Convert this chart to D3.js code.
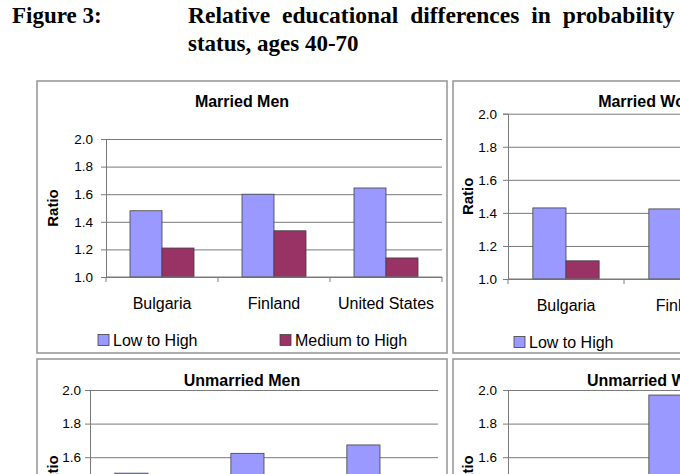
<!DOCTYPE html>
<html>
<head>
<meta charset="utf-8">
<script src="https://cdn.jsdelivr.net/npm/d3@7"></script>
<style>
  html, body { margin: 0; padding: 0; background: #fff; overflow: hidden; }
  svg { display: block; }
  text { font-family: "Liberation Sans", Arial, sans-serif; fill: #000; }
  .caption { font-family: "Liberation Serif", "Times New Roman", serif; font-weight: bold; font-size: 23px; }
</style>
</head>
<body>
<script>
var width = 680;
var height = 474;

// data
var countries = ['Bulgaria', 'Finland', 'United States'];
var seriesNames = ['Low to High', 'Medium to High'];
var yTicks = [1.0, 1.2, 1.4, 1.6, 1.8, 2.0];

var marriedMenLow = [1.48, 1.60, 1.645];
var marriedMenMed = [1.21, 1.335, 1.138];
var marriedWomenLow = [1.43, 1.424, 1.50];
var marriedWomenMed = [1.11, 1.25, 1.20];
var unmarriedMenLow = [1.505, 1.623, 1.673];
var unmarriedMenMed = [1.25, 1.30, 1.35];
var unmarriedWomenLow = [1.40, 1.97, 1.45];
var unmarriedWomenMed = [1.15, 1.40, 1.20];

var lowColor = '#9999ff';
var medColor = '#993366';
var gridColor = '#7a7a7a';

var svg = d3.select('body').append('svg')
    .attr('width', width)
    .attr('height', height);

// figure caption (first line is justified in the source document)
svg.append('text').attr('class', 'caption').attr('x', 12).attr('y', 23).text('Figure 3:');
svg.append('text').attr('class', 'caption').attr('x', 188).attr('y', 23)
    .style('word-spacing', '6px').style('font-size', '23.5px')
    .text('Relative educational differences in probability of death by marital');
svg.append('text').attr('class', 'caption').attr('x', 188).attr('y', 51).text('status, ages 40-70');

// one chart panel per marital group
var panels = [
  {title: 'Married Men', low: marriedMenLow, med: marriedMenMed,
   box: [37, 81, 410, 272], plot: [106, 139, 336, 138], titleY: 101, ratioDx: -54, tickPad: 8},
  {title: 'Married Women', low: marriedWomenLow, med: marriedWomenMed,
   box: [453, 81, 410, 272], plot: [508, 113.7, 348, 165.3], titleY: 101, ratioDx: -41, tickPad: 6},
  {title: 'Unmarried Men', low: unmarriedMenLow, med: unmarriedMenMed,
   box: [37, 359, 410, 272], plot: [90, 390, 348, 168], titleY: 380, ratioDx: -38, tickPad: 4},
  {title: 'Unmarried Women', low: unmarriedWomenLow, med: unmarriedWomenMed,
   box: [453, 359, 410, 272], plot: [508, 390, 348, 168], titleY: 380, ratioDx: -41, tickPad: 6}
];

panels.forEach(function(p) {
  var g = svg.append('g');
  var bx = p.box[0], by = p.box[1], bw = p.box[2], bh = p.box[3];
  var px = p.plot[0], py = p.plot[1], pw = p.plot[2], ph = p.plot[3];

  g.append('rect')
      .attr('x', bx).attr('y', by).attr('width', bw).attr('height', bh)
      .attr('fill', '#fff').attr('stroke', '#9a9a9a').attr('stroke-width', 1.6);

  g.append('text')
      .attr('x', bx + bw / 2).attr('y', p.titleY)
      .attr('text-anchor', 'middle').attr('dominant-baseline', 'central')
      .style('font-weight', 'bold').style('font-size', '16px')
      .text(p.title);

  var x0 = d3.scaleBand().domain(countries).range([px, px + pw]);
  var x1 = d3.scaleBand().domain(seriesNames).range([0, x0.bandwidth()]).paddingOuter(0.75);
  var y = d3.scaleLinear().domain([1.0, 2.0]).range([py + ph, py]);

  // gridlines
  g.append('g')
      .attr('transform', 'translate(' + px + ',0)')
      .call(d3.axisLeft(y).tickValues(yTicks).tickSize(-pw).tickFormat(''))
      .call(function(s) {
        s.select('.domain').remove();
        s.selectAll('line').attr('stroke', gridColor);
      });

  // bars
  var rows = countries.map(function(c, i) {
    return [{c: c, s: seriesNames[0], v: p.low[i], col: lowColor},
            {c: c, s: seriesNames[1], v: p.med[i], col: medColor}];
  });
  g.selectAll('g.grp').data(rows).enter().append('g')
      .selectAll('rect').data(function(d) { return d; }).enter().append('rect')
      .attr('x', function(d) { return x0(d.c) + x1(d.s); })
      .attr('y', function(d) { return y(d.v); })
      .attr('width', x1.bandwidth())
      .attr('height', function(d) { return y(1.0) - y(d.v); })
      .attr('fill', function(d) { return d.col; })
      .attr('stroke', '#404040').attr('stroke-width', 0.8);

  // y axis
  g.append('g')
      .attr('transform', 'translate(' + px + ',0)')
      .call(d3.axisLeft(y).tickValues(yTicks).tickSize(5).tickPadding(p.tickPad).tickFormat(d3.format('.1f')))
      .call(function(s) {
        s.selectAll('line, path').attr('stroke', gridColor);
        s.selectAll('text').style('font-size', '13.5px').attr('fill', '#000');
      });

  // x axis line, boundary ticks and labels
  g.append('line')
      .attr('x1', px).attr('x2', px + pw).attr('y1', y(1.0)).attr('y2', y(1.0))
      .attr('stroke', gridColor);
  var bounds = countries.map(function(c) { return x0(c); }).concat([px + pw]);
  g.selectAll('line.xt').data(bounds).enter().append('line')
      .attr('class', 'xt')
      .attr('x1', function(d) { return d; }).attr('x2', function(d) { return d; })
      .attr('y1', y(1.0)).attr('y2', y(1.0) + 5)
      .attr('stroke', gridColor);
  g.selectAll('text.cat').data(countries).enter().append('text')
      .attr('class', 'cat')
      .attr('x', function(d) { return x0(d) + x0.bandwidth() / 2; })
      .attr('y', y(1.0) + 26)
      .attr('text-anchor', 'middle').attr('dominant-baseline', 'central')
      .style('font-size', '16px')
      .text(function(d) { return d; });

  // y label
  g.append('text')
      .attr('transform', 'translate(' + (px + p.ratioDx) + ',' + (py + ph / 2) + ') rotate(-90)')
      .attr('text-anchor', 'middle').attr('dominant-baseline', 'central')
      .style('font-weight', 'bold').style('font-size', '15px')
      .text('Ratio');

  // legend
  var legX = [bx + 61, bx + 243];
  var legY = y(1.0) + 63;
  var leg = g.selectAll('g.leg').data(seriesNames).enter().append('g')
      .attr('transform', function(d, i) { return 'translate(' + legX[i] + ',' + legY + ')'; });
  leg.append('rect')
      .attr('x', 0).attr('y', -5.5).attr('width', 11).attr('height', 11)
      .attr('fill', function(d, i) { return i === 0 ? lowColor : medColor; })
      .attr('stroke', '#404040').attr('stroke-width', 0.8);
  leg.append('text')
      .attr('x', 15).attr('y', 0).attr('dominant-baseline', 'central')
      .style('font-size', '16px')
      .text(function(d) { return d; });
});
</script>
</body>
</html>
